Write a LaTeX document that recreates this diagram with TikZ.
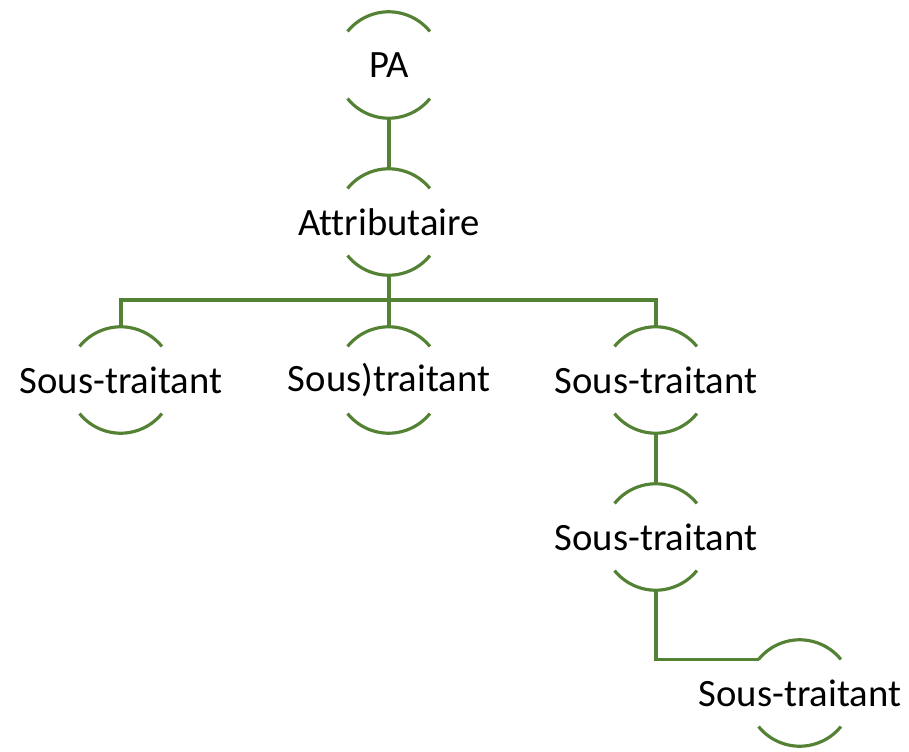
\documentclass[tikz,border=0pt]{standalone}
\usepackage{fontspec}
\setmainfont{Carlito}[Ligatures=CommonOff]
\usepackage{tikz}
\usepackage{xcolor}
\usetikzlibrary{positioning}

\definecolor{leafgreen}{HTML}{548235}

\begin{document}
\begin{tikzpicture}[
    bubble/.style={circle, minimum size=2.12cm, inner sep=0pt, label={center:#1}},
    arcline/.style={leafgreen, line width=1.8pt},
    every label/.style={font=\fontsize{22}{26}\selectfont, inner sep=0pt}
]
    \useasboundingbox (0, 0) rectangle (18.18, -15.04);

    \node[bubble={PA}] (pa) at (7.78, -1.30) {};
    \node[bubble={Attributaire}] (attr) at (7.78, -4.44) {};
    \node[bubble={Sous-traitant}] (st1) at (2.42, -7.60) {};
    \node[bubble={Sous)traitant}] (st2) at (7.78, -7.60) {};
    \node[bubble={Sous-traitant}] (st3) at (13.12, -7.60) {};
    \node[bubble={Sous-traitant}] (st4) at (13.12, -10.74) {};
    \node[bubble={Sous-traitant}] (st5) at (16.00, -13.86) {};
    \coordinate (fork) at (7.78, -6.00);

    % arcs above and below each label
    \foreach \n in {pa, attr, st1, st2, st3, st4, st5} {
        \draw[arcline] (\n.141) arc[start angle=141, end angle=39, radius=1.06cm];
        \draw[arcline] (\n.219) arc[start angle=219, end angle=321, radius=1.06cm];
    }

    \draw[arcline] (pa.south) -- (attr.north);
    \draw[arcline] (attr.south) -- (fork);
    \draw[arcline] (fork) -| (st1.north);
    \draw[arcline] (fork) -- (st2.north);
    \draw[arcline] (fork) -| (st3.north);
    \draw[arcline] (st3.south) -- (st4.north);
    \draw[arcline] (st4.south) |- (st5.141);
\end{tikzpicture}
\end{document}
